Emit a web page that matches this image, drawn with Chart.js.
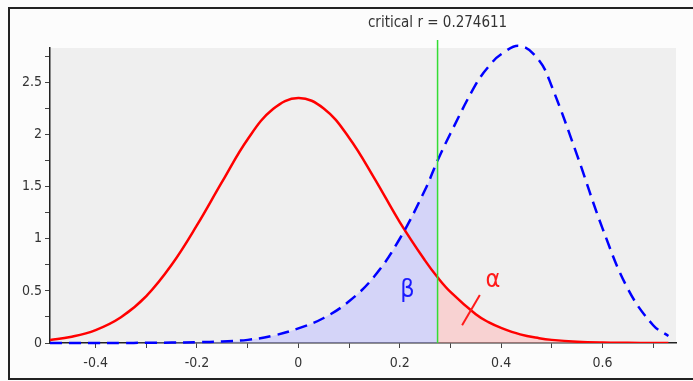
<!DOCTYPE html>
<html>
<head>
<meta charset="utf-8">
<script src="https://cdn.jsdelivr.net/npm/chart.js@4.4.1/dist/chart.umd.min.js"></script>
<style>
  html, body { margin: 0; padding: 0; background: #fcfcfc; }
  #wrap { width: 693px; height: 381px; }
</style>
</head>
<body>
<div id="wrap"><canvas id="powerChart"></canvas></div>
<script>
// r values along the x axis
const rValues = [-0.49, -0.45, -0.4, -0.35, -0.3, -0.25, -0.2, -0.15, -0.1, -0.05, 0, 0.05, 0.1, 0.15, 0.2, 0.25, 0.274611, 0.3, 0.35, 0.375, 0.4, 0.4375, 0.475, 0.5, 0.55, 0.6, 0.65, 0.7, 0.73];
// null distribution (red, solid)
const nullDensity = [0.028, 0.057, 0.124, 0.247, 0.45, 0.75, 1.13, 1.55, 1.955, 2.244, 2.35, 2.25, 1.97, 1.58, 1.16, 0.79, 0.63, 0.49, 0.275, 0.2, 0.145, 0.083, 0.046, 0.03, 0.013, 0.005, 0.002, 0.0005, 0];
// alternative distribution (blue, dashed)
const altDensity = [0, 0, 0, 0, 0.002, 0.004, 0.008, 0.015, 0.03, 0.07, 0.14, 0.24, 0.4, 0.64, 1.0, 1.47, 1.75, 2.01, 2.48, 2.65, 2.77, 2.85, 2.71, 2.46, 1.8, 1.1, 0.52, 0.17, 0.068];
const criticalR = 0.274611;
const xTickLabels = ["-0.4", "-0.2", "0", "0.2", "0.4", "0.6"];
const yTickLabels = ["0", "0.5", "1", "1.5", "2", "2.5"];

const FONT = "'DejaVu Sans Condensed', 'Liberation Sans Narrow', 'DejaVu Sans', sans-serif";

function toPoints(ys, keep) {
  const pts = [];
  for (let i = 0; i < rValues.length; i++) {
    if (keep(rValues[i])) pts.push({ x: rValues[i], y: ys[i] });
  }
  return pts;
}

// frame, grey plot area, critical line and the greek labels
const decor = {
  id: "decor",
  beforeDraw(chart) {
    const ctx = chart.ctx;
    const a = chart.chartArea;
    ctx.save();
    ctx.fillStyle = "#fcfcfc";
    ctx.fillRect(0, 0, chart.width, chart.height);
    ctx.fillStyle = "#efefef";
    ctx.fillRect(a.left, a.top, a.right - a.left, a.bottom - a.top);
    ctx.strokeStyle = "#222";
    ctx.lineWidth = 2;
    ctx.beginPath();
    ctx.moveTo(chart.width, 8);
    ctx.lineTo(9, 8);
    ctx.lineTo(9, chart.height - 2);
    ctx.lineTo(chart.width, chart.height - 2);
    ctx.stroke();
    ctx.restore();
  },
  afterDatasetsDraw(chart) {
    const ctx = chart.ctx;
    const xs = chart.scales.x;
    const ys = chart.scales.y;
    const cx = xs.getPixelForValue(criticalR);
    ctx.save();
    ctx.strokeStyle = "#33dd33";
    ctx.lineWidth = 1.5;
    ctx.beginPath();
    ctx.moveTo(cx, 40);
    ctx.lineTo(cx, ys.getPixelForValue(0));
    ctx.stroke();

    ctx.fillStyle = "#333";
    ctx.font = "15px " + FONT;
    ctx.textAlign = "center";
    ctx.textBaseline = "middle";
    ctx.fillText("critical r = " + criticalR, cx, 23);

    ctx.font = "25px " + FONT;
    ctx.fillStyle = "#1a1aff";
    ctx.fillText("β", xs.getPixelForValue(0.215), ys.getPixelForValue(0.5));
    ctx.fillStyle = "#ff1a1a";
    ctx.fillText("α", xs.getPixelForValue(0.384), ys.getPixelForValue(0.6));

    ctx.strokeStyle = "#ff1a1a";
    ctx.lineWidth = 2;
    ctx.beginPath();
    ctx.moveTo(xs.getPixelForValue(0.323), ys.getPixelForValue(0.17));
    ctx.lineTo(xs.getPixelForValue(0.358), ys.getPixelForValue(0.46));
    ctx.stroke();
    ctx.restore();
  }
};

const ctx = document.querySelector("#powerChart").getContext("2d");
const chart = new Chart(ctx, {
  type: "line",
  data: {
    datasets: [
      {
        label: "alternative",
        data: toPoints(altDensity, (x) => true),
        borderColor: "#0000ff",
        borderWidth: 2.5,
        borderDash: [12, 7],
        pointRadius: 0,
        fill: false,
        clip: 6,
        order: 1,
      },
      {
        label: "null",
        data: toPoints(nullDensity, (x) => true),
        borderColor: "#ff0000",
        borderWidth: 2.5,
        pointRadius: 0,
        fill: false,
        order: 1,
      },
      {
        label: "beta",
        data: toPoints(altDensity, (x) => x <= criticalR),
        borderWidth: 0,
        backgroundColor: "rgba(190, 190, 255, 0.55)",
        pointRadius: 0,
        fill: "origin",
        order: 3,
      },
      {
        label: "alpha",
        data: toPoints(nullDensity, (x) => x >= criticalR),
        borderWidth: 0,
        backgroundColor: "rgba(255, 185, 185, 0.55)",
        pointRadius: 0,
        fill: "origin",
        order: 3,
      },
    ],
  },
  options: {
    responsive: true,
    maintainAspectRatio: false,
    animation: false,
    tension: 0.4,
    layout: { padding: { top: 48, right: 17, left: 0, bottom: 0 } },
    plugins: { legend: { display: false }, tooltip: { enabled: false } },
    scales: {
      x: {
        type: "linear",
        min: -0.49,
        max: 0.745,
        afterBuildTicks(scale) {
          scale.ticks = scale.ticks.filter((t) => Math.abs(t.value * 10 - Math.round(t.value * 10)) < 1e-6);
        },
        afterFit(scale) { scale.height = 38; },
        ticks: {
          stepSize: 0.1,
          includeBounds: false,
          autoSkip: false,
          maxRotation: 0,
          padding: 7,
          color: "#333",
          font: { family: FONT, size: 14 },
          callback(v) {
            const k = Math.round(v * 10);
            if (k % 2 !== 0) return "";
            const s = String(k / 10);
            return xTickLabels.includes(s) ? s : "";
          },
        },
        grid: { drawOnChartArea: false, tickLength: 5, color: "#444" },
        border: { color: "#222", width: 1.5 },
      },
      y: {
        min: 0,
        max: 2.83,
        afterBuildTicks(scale) {
          scale.ticks = scale.ticks.filter((t) => Math.abs(t.value * 4 - Math.round(t.value * 4)) < 1e-6);
        },
        afterFit(scale) { scale.width = 50; },
        ticks: {
          stepSize: 0.25,
          includeBounds: false,
          autoSkip: false,
          padding: 3,
          color: "#333",
          font: { family: FONT, size: 14 },
          callback(v) {
            const k = Math.round(v * 4);
            if (k % 2 !== 0) return "";
            const s = String(k / 4);
            return yTickLabels.includes(s) ? s : "";
          },
        },
        grid: { drawOnChartArea: false, tickLength: 5, color: "#444" },
        border: { color: "#222", width: 1.5 },
      },
    },
  },
  plugins: [decor],
});
</script>
</body>
</html>
